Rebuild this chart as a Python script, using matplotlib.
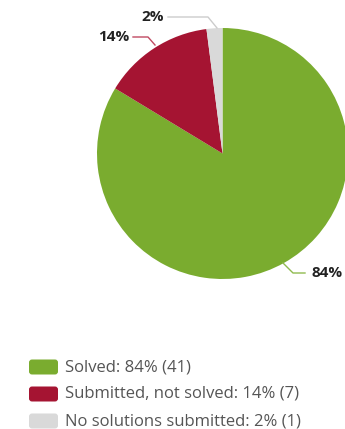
import matplotlib.pyplot as plt
from matplotlib.patches import FancyBboxPatch

labels = ['Solved', 'Submitted, not solved', 'No solutions submitted']
counts = [41, 7, 1]
percents = [84, 14, 2]
colors = ['#7aac2f', '#a51432', '#d9d9d9']

W, H = 345, 429
fig = plt.figure(figsize=(W / 100, H / 100), dpi=100)
ax = fig.add_axes([0, 0, 1, 1])

cx, cy, r = 222.5, H - 153.5, 125.5
ax.pie(counts, colors=colors, startangle=90, counterclock=False,
       center=(cx, cy), radius=r, frame=True,
       wedgeprops=dict(linewidth=0))
ax.set_xlim(0, W)
ax.set_ylim(0, H)
ax.set_aspect('equal')
ax.axis('off')

font = 'Open Sans'
# leader lines and value labels: (edge point, elbow, end, text x, align)
leaders = [
    ((283, H - 263), (293, H - 273), (305, H - 273), 311, 'left'),
    ((155, H - 45), (148, H - 37), (133, H - 37), 129, 'right'),
    ((217, H - 28), (208, H - 17), (168, H - 17), 164, 'right'),
]
line_colors = ['#8fbb4f', '#c04a62', '#cccccc']
for (p0, p1, p2, tx, ha), pct, lc in zip(leaders, percents, line_colors):
    ax.plot([p0[0], p1[0], p2[0]], [p0[1], p1[1], p2[1]], color=lc, lw=1)
    ax.text(tx, p2[1], f'{pct}%', ha=ha, va='center', fontsize=11,
            fontweight='bold', color='#222222', family=font)

# legend
for i, (lab, pct, n, col) in enumerate(zip(labels, percents, counts, colors)):
    y = H - 367 - 27 * i
    ax.add_patch(FancyBboxPatch((29, y - 7.5), 29, 15,
                                boxstyle='round,pad=0,rounding_size=3',
                                facecolor=col, edgecolor='none'))
    ax.text(65, y, f'{lab}: {pct}% ({n})', ha='left', va='center',
            fontsize=12, color='#555555', family=font)

fig.savefig('out.png', dpi=100)
